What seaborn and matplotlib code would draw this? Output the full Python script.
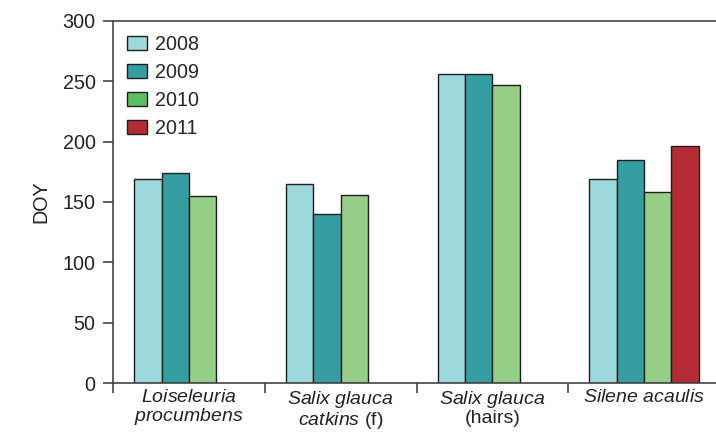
"""
Grouped bar chart of DOY per species and year
"""

import numpy as np
import pandas as pd
import matplotlib
matplotlib.use('Agg')
import matplotlib.pyplot as plt
from matplotlib.patches import Patch
import seaborn as sns

# data
species = ['Loiseleuria procumbens', 'Salix glauca catkins (f)',
           'Salix glauca (hairs)', 'Silene acaulis']
years = ['2008', '2009', '2010', '2011']
doy_loiseleuria = [169, 174, 155]
doy_salix_catkins = [165, 140, 156]
doy_salix_hairs = [256, 256, 247]
doy_silene = [169, 185, 158, 196]

tick_labels = [
    r'$\mathit{Loiseleuria}$' + '\n' + r'$\mathit{procumbens}$',
    r'$\mathit{Salix\ glauca}$' + '\n' + r'$\mathit{catkins}$ (f)',
    r'$\mathit{Salix\ glauca}$' + '\n' + '(hairs)',
    r'$\mathit{Silene\ acaulis}$',
]

bar_colors = {'2008': '#9dd8dc', '2009': '#359ea3', '2010': '#97ce88', '2011': '#b52a33'}
legend_colors = {'2008': '#9dd8dc', '2009': '#359ea3', '2010': '#5bbf5f', '2011': '#b52a33'}

rows = []
for sp, vals in zip(species, [doy_loiseleuria, doy_salix_catkins, doy_salix_hairs, doy_silene]):
    for yr, v in zip(years, vals):
        rows.append({'species': sp, 'year': yr, 'DOY': v})
df = pd.DataFrame(rows)

sns.set_style('white')
plt.rcParams['font.family'] = ['Liberation Sans', 'DejaVu Sans']
plt.rcParams['mathtext.fontset'] = 'custom'
plt.rcParams['mathtext.it'] = 'Liberation Sans:italic'
plt.rcParams['mathtext.rm'] = 'Liberation Sans'

fs = 14.2
fig = plt.figure(figsize=(7.16, 4.36), dpi=100)
ax = fig.add_axes([113 / 716, 52.7 / 436, 607 / 716, 362.6 / 436])

sns.barplot(data=df, x='species', y='DOY', hue='year', order=species,
            hue_order=years, palette=bar_colors, width=0.72, dodge=True,
            edgecolor='#1f1f1f', linewidth=1.0, saturation=1, ax=ax,
            legend=False)

ax.set_xlim(-0.5, 3.5)
ax.set_ylim(0, 300)
ax.set_yticks(np.arange(0, 301, 50))
ax.set_xticks(range(len(species)))
ax.set_xticklabels(tick_labels, fontsize=14, color='#222222', linespacing=1.0)
ax.set_xticks(np.arange(-0.5, 3.6, 1), minor=True)
ax.tick_params(axis='x', which='major', bottom=True, length=0, pad=4)
ax.tick_params(axis='x', which='minor', bottom=True, length=7, width=1.2,
               direction='out', color='#444444')
ax.tick_params(axis='y', left=True, length=7, width=1.2, direction='out', color='#444444',
               labelsize=fs, labelcolor='#222222', pad=5.5)
ax.set_xlabel('')
ax.set_ylabel('DOY', fontsize=fs, color='#222222', labelpad=9)

for side in ['left', 'bottom', 'top', 'right']:
    ax.spines[side].set_visible(True)
    ax.spines[side].set_color('#444444')
    ax.spines[side].set_linewidth(1.2)

handles = [Patch(facecolor=legend_colors[y], edgecolor='#1f1f1f', linewidth=1.0, label=y)
           for y in years]
ax.legend(handles=handles, loc='upper left', frameon=False, fontsize=fs,
          bbox_to_anchor=(127 / 716, (436 - 35) / 436), bbox_transform=fig.transFigure,
          borderpad=0, borderaxespad=0, handlelength=1.0, handleheight=0.75,
          handletextpad=0.4, labelspacing=0.45)

plt.savefig('out.png', dpi=100)
